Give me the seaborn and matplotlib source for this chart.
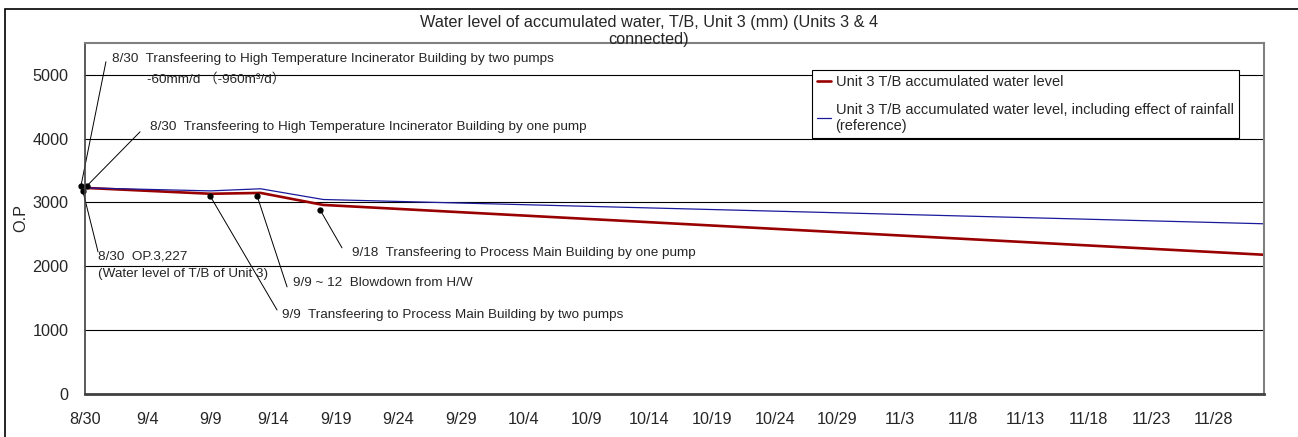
import pandas as pd
import numpy as np
import matplotlib.pyplot as plt
import matplotlib.dates as mdates
from matplotlib.patches import Rectangle
import seaborn as sns

# data (2011)
dates = ['2011-08-30', '2011-09-09', '2011-09-13', '2011-09-18', '2011-12-02']
level = [3227, 3135, 3148, 2960, 2180]
level_rain = [3227, 3180, 3213, 3045, 2665]
names = ['Unit 3 T/B accumulated water level',
         'Unit 3 T/B accumulated water level, including effect of rainfall\n(reference)']
tick_dates = pd.date_range('2011-08-30', '2011-11-28', freq='5D')
y_ticks = [0, 1000, 2000, 3000, 4000, 5000]
title = 'Water level of accumulated water, T/B, Unit 3 (mm) (Units 3 & 4\nconnected)'

# notes: days after 8/30 / value for text, leader start and dot
note_text = ['8/30  Transfeering to High Temperature Incinerator Building by two pumps',
             '8/30  Transfeering to High Temperature Incinerator Building by one pump',
             '8/30  OP.3,227',
             '9/9  Transfeering to Process Main Building by two pumps',
             '9/9 ~ 12  Blowdown from H/W',
             '9/18  Transfeering to Process Main Building by one pump']
note_xy = [(2.15, 5250), (5.18, 4184), (1.04, 2147), (15.71, 1238), (16.59, 1739), (21.29, 2209)]
leader_xy = [(1.67, 5202), (4.39, 4105), (1.04, 2225), (15.31, 1316), (16.11, 1677), (20.49, 2288)]
dot_xy = [(-0.32, 3260), (0.18, 3264), (-0.18, 3186), (9.97, 3103), (13.72, 3103), (18.74, 2884)]
extra_text = [('-60mm/d （-960m³/d）', 4.94, 4930),
              ('(Water level of T/B of Unit 3)', 1.04, 1880)]

sns.set_style('white')
plt.rcParams['font.family'] = ['Liberation Sans', 'Noto Sans CJK JP', 'DejaVu Sans']

base = pd.Timestamp('2011-08-30')
def day(d):
    return base + pd.Timedelta(days=d)

df = pd.DataFrame({'date': pd.to_datetime(dates), 'a': level, 'b': level_rain})

fig = plt.figure(figsize=(12.98, 4.37), dpi=100)
ax = fig.add_axes([85/1298, 1-394/437, (1264-85)/1298, (394-42.7)/437])

sns.lineplot(data=df, x='date', y='a', ax=ax, color='#990000', linewidth=1.9, label=names[0])
sns.lineplot(data=df, x='date', y='b', ax=ax, color='#1a1a9c', linewidth=0.9, label=names[1])

ax.set_xlim(day(0), day(94))
ax.set_ylim(0, 5500)
ax.set_yticks(y_ticks)
ax.set_xticks(tick_dates)
ax.xaxis.set_major_formatter(mdates.DateFormatter('%-m/%-d'))
ax.tick_params(axis='x', direction='in', length=4, color='#404040', pad=13, labelsize=11.7)
ax.tick_params(axis='y', length=0, pad=12, labelsize=11.7)
ax.set_xlabel('')
ax.set_ylabel('O.P', fontsize=11.7, labelpad=2.5)

for y in y_ticks[1:]:
    ax.axhline(y, color='black', lw=0.8, zorder=0.5)

for s in ['top', 'right']:
    ax.spines[s].set_color('#808080')
    ax.spines[s].set_linewidth(1.5)
ax.spines['left'].set_color('#404040')
ax.spines['left'].set_linewidth(1.2)
ax.spines['bottom'].set_color('#404040')
ax.spines['bottom'].set_linewidth(2)

for txt, (tx, ty), (lx, ly), (px, py) in zip(note_text, note_xy, leader_xy, dot_xy):
    ax.text(day(tx), ty, txt, fontsize=9.7, ha='left', va='center')
    ax.plot([day(lx), day(px)], [ly, py], color='black', lw=0.7, clip_on=False)
    ax.plot(day(px), py, 'o', color='black', ms=3.5, clip_on=False)
for txt, tx, ty in extra_text:
    ax.text(day(tx), ty, txt, fontsize=9.7, ha='left', va='center')

leg = ax.legend(loc='upper right', bbox_to_anchor=(1246/1298, 1-63/437), bbox_transform=fig.transFigure,
                fontsize=10.5, frameon=True, fancybox=False, edgecolor='black',
                handlelength=1.0, handletextpad=0.3, labelspacing=0.9, borderpad=0.35)
leg.get_frame().set_linewidth(0.8)
leg.get_frame().set_alpha(1)

fig.text(0.5, 1-31/437, title, ha='center', va='center', fontsize=11.7, linespacing=1.15)

fig.add_artist(Rectangle((5/1298, -0.1), 1.2, 1.1-9/437, transform=fig.transFigure,
                         fill=False, edgecolor='black', lw=1.2, clip_on=False))

fig.savefig('out.png', dpi=100)
